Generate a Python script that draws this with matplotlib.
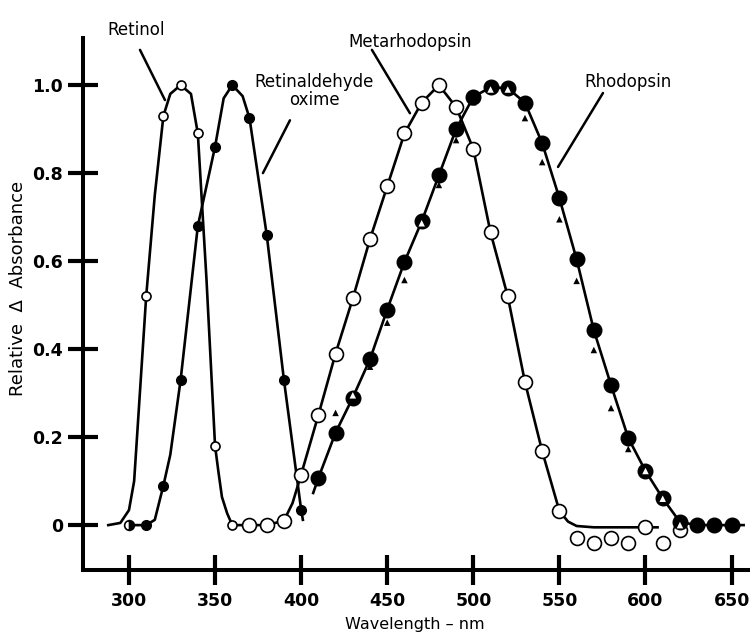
import numpy as np
import matplotlib
matplotlib.use("Agg")
import matplotlib.pyplot as plt

# --- marker data ---
retinol_nm = [310, 320, 330, 340, 350, 360]
retinol_abs = [0.52, 0.93, 1.0, 0.89, 0.18, 0.0]

oxime_nm = [300, 310, 320, 330, 340, 350, 360, 370, 380, 390, 400]
oxime_abs = [0.0, 0.0, 0.09, 0.33, 0.68, 0.86, 1.0, 0.925, 0.66, 0.33, 0.035]

meta_nm = [370, 380, 390, 400, 410, 420, 430, 440, 450, 460, 470, 480, 490,
           500, 510, 520, 530, 540, 550, 560, 570, 580, 590, 600, 610, 620]
meta_abs = [0.0, 0.0, 0.01, 0.115, 0.25, 0.39, 0.515, 0.65, 0.77, 0.89, 0.96,
            1.0, 0.95, 0.855, 0.665, 0.52, 0.325, 0.168, 0.032, -0.03, -0.04,
            -0.03, -0.04, -0.005, -0.04, -0.01]

rho_nm = [410, 420, 430, 440, 450, 460, 470, 480, 490, 500, 510, 520, 530,
          540, 550, 560, 570, 580, 590, 600, 610, 620, 630, 640, 650]
rho_abs = [0.107, 0.21, 0.29, 0.377, 0.49, 0.598, 0.69, 0.795, 0.9, 0.973,
           0.995, 0.993, 0.96, 0.868, 0.743, 0.604, 0.443, 0.318, 0.198,
           0.123, 0.061, 0.007, 0.0, 0.0, 0.0]

tri_nm = [420, 430, 440, 450, 460, 470, 480, 490, 500, 510, 520, 530, 540,
          550, 560, 570, 580, 590, 600, 610, 620]
tri_abs = [0.255, 0.295, 0.36, 0.46, 0.557, 0.686, 0.773, 0.875, 0.961, 0.99,
           0.99, 0.925, 0.825, 0.695, 0.555, 0.398, 0.266, 0.173, 0.123, 0.06,
           0.0]

# --- drawn curve traces ---
retinol_line_nm = [288, 295, 300, 303, 306, 310, 315, 320, 324, 330, 336, 340,
                   345, 350, 352, 354, 357, 360]
retinol_line_abs = [0.0, 0.005, 0.034, 0.1, 0.28, 0.52, 0.75, 0.93, 0.98, 1.0,
                    0.98, 0.89, 0.56, 0.18, 0.12, 0.064, 0.027, 0.0]

oxime_line_nm = [300, 310, 315, 320, 324, 330, 340, 350, 355, 360, 366, 370,
                 380, 390, 400, 401]
oxime_line_abs = [0.0, 0.0, 0.012, 0.09, 0.16, 0.33, 0.68, 0.86, 0.97, 1.0,
                  0.975, 0.925, 0.66, 0.33, 0.035, 0.012]

meta_line_nm = [360, 370, 380, 390, 395, 400, 410, 420, 430, 440, 450, 460,
                470, 480, 490, 500, 510, 520, 530, 540, 550, 555, 560, 570,
                590, 607]
meta_line_abs = [0.0, 0.0, 0.0, 0.01, 0.05, 0.115, 0.25, 0.39, 0.515, 0.65,
                 0.77, 0.89, 0.96, 1.0, 0.95, 0.855, 0.665, 0.52, 0.325, 0.168,
                 0.032, 0.008, -0.002, -0.005, -0.005, -0.005]

rho_line_nm = [407] + rho_nm + [657]
rho_line_abs = [0.073] + rho_abs + [0.0]

x_ticks = [300, 350, 400, 450, 500, 550, 600, 650]
y_ticks = [0, 0.2, 0.4, 0.6, 0.8, 1.0]
y_ticklabels = ["0", "0.2", "0.4", "0.6", "0.8", "1.0"]

fig = plt.figure(figsize=(7.5, 6.34), dpi=100)
ax = fig.add_axes([83 / 750, 1 - 570 / 634, 1 - 83 / 750, (570 - 38) / 634])

lw = 1.9
ax.plot(retinol_line_nm, retinol_line_abs, color="black", lw=lw, zorder=2)
ax.plot(oxime_line_nm, oxime_line_abs, color="black", lw=lw, zorder=2)
ax.plot(meta_line_nm, meta_line_abs, color="black", lw=lw, zorder=2)
ax.plot(rho_line_nm, rho_line_abs, color="black", lw=lw, zorder=2)

# markers
ax.plot(oxime_nm[1:], oxime_abs[1:], "o", ms=7, mfc="black", mec="black", zorder=3)
ax.plot(oxime_nm[:1], oxime_abs[:1], "o", ms=7, mfc="black", mec="black",
        fillstyle="right", markerfacecoloralt="white", mew=1.2, zorder=3)
ax.plot(retinol_nm, retinol_abs, "o", ms=6.5, mfc="white", mec="black", mew=1.2, zorder=4)
ax.plot(meta_nm, meta_abs, "o", ms=10, mfc="white", mec="black", mew=1.2, zorder=4)
ax.plot(rho_nm, rho_abs, "o", ms=10.5, mfc="black", mec="black", zorder=5)

# triangles sitting inside a filled circle show up white
rho_lookup = dict(zip(rho_nm, rho_abs))
tri_colors = ["white" if abs(rho_lookup.get(n, 9) - v) < 0.011 else "black"
              for n, v in zip(tri_nm, tri_abs)]
ax.scatter(tri_nm, tri_abs, marker="^", s=22, c=tri_colors, linewidths=0, zorder=6)

# axes styling
ax.set_xlim(273.3, 660.7)
ax.set_ylim(-0.102, 1.107)
for side in ["top", "right"]:
    ax.spines[side].set_visible(False)
for side in ["left", "bottom"]:
    ax.spines[side].set_linewidth(2.9)
ax.set_xticks(x_ticks)
ax.set_yticks(y_ticks)
ax.set_yticklabels(y_ticklabels)
ax.tick_params(direction="inout", length=21, width=3, labelsize=12.5, pad=4)
ax.tick_params(axis="x", pad=5)
for lab in ax.get_xticklabels() + ax.get_yticklabels():
    lab.set_fontweight("bold")

fig.text(18 / 750, 1 - 288 / 634, "Relative  \u0394  Absorbance", rotation=90,
         ha="center", va="center", fontsize=13)
fig.text(415 / 750, 1 - 624 / 634, "Wavelength \u2013 nm", ha="center",
         va="center", fontsize=11.5)

# curve labels with leader lines
arrow = dict(arrowstyle="-", color="black", lw=1.8, shrinkA=0, shrinkB=0)
ax.text(304, 1.125, "Retinol", ha="center", va="center", fontsize=12)
ax.annotate("", xy=(320.9, 0.966), xytext=(306.4, 1.08), arrowprops=arrow)
ax.text(407.5, 0.986, "Retinaldehyde\noxime", ha="center", va="center",
        fontsize=12, linespacing=1.0)
ax.annotate("", xy=(377.8, 0.80), xytext=(393.5, 0.92), arrowprops=arrow)
ax.text(463.2, 1.098, "Metarhodopsin", ha="center", va="center", fontsize=12)
ax.annotate("", xy=(463.2, 0.936), xytext=(441.1, 1.08), arrowprops=arrow)
ax.text(589.8, 1.007, "Rhodopsin", ha="center", va="center", fontsize=12)
ax.annotate("", xy=(549.2, 0.814), xytext=(575.3, 0.982), arrowprops=arrow)

fig.savefig("out.png", dpi=100)
